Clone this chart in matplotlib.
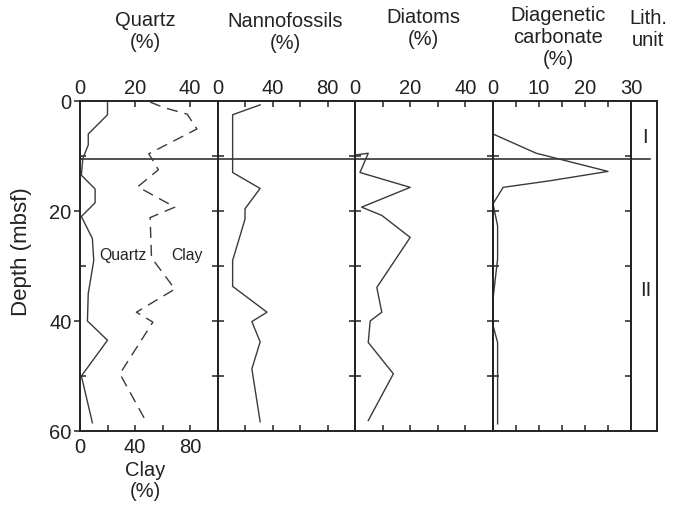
import numpy as np
import matplotlib
matplotlib.use("Agg")
import matplotlib.pyplot as plt
from matplotlib.ticker import FixedLocator

plt.rcParams['font.family'] = ['Liberation Sans', 'DejaVu Sans']

# depth (mbsf) vs composition (%)
quartz_depth = [0, 2.5, 6, 8, 10.5, 13.5, 16, 18.5, 21, 25, 29, 35, 40, 43.5, 50, 58.5]
quartz_pct = [10, 10, 3, 3, 1, 0.5, 5.5, 5.5, 0.5, 4.5, 5, 3, 2.7, 10, 0.5, 4.5]

clay_depth = [0.2, 1.2, 2.4, 5.1, 9.6, 12.5, 15.6, 19.3, 21.2, 28.5, 34.2, 38.4, 40.2, 49.6, 58.7]
clay_pct = [51, 61, 78, 85, 50, 57, 42, 69, 51, 52, 69, 41, 53, 29, 49]

nanno_depth = [0.7, 2.5, 13, 15.9, 19.6, 21.5, 29, 33.7, 38.4, 40.1, 43.8, 48.7, 58.3]
nanno_pct = [31, 11, 11, 31, 20, 20, 11, 11, 36, 25, 31, 25, 31]

diatom_depth = [9.8, 9.5, 13, 15.7, 19.3, 20.8, 24.8, 33.9, 38.4, 40, 43.9, 49.6, 58.1]
diatom_pct = [0.4, 4.8, 1.8, 20, 2.4, 9.7, 20, 7.9, 9.7, 5.5, 4.8, 13.9, 4.8]

carb_depth = [6, 9.5, 12.8, 14.5, 15.7, 18.7, 22.7, 28.7, 36, 40.8, 43.9, 58.7]
carb_pct = [0, 9.4, 25, 12.4, 2.2, 0, 1, 1, 0, 0, 1, 1]

unit_boundary = 10.5
units = ['I', 'II']
unit_depths = [6.4, 34.2]

W, H = 682, 510
fig = plt.figure(figsize=(W / 100, H / 100), dpi=100)
top_px, bot_px = 102, 432

def add_panel(x0, x1):
    return fig.add_axes([x0 / W, (H - bot_px) / H, (x1 - x0) / W, (bot_px - top_px) / H])

ink = '#222222'
line_c = '#3a3a3a'
fs = 14.5

def style(ax, xlim, major, minor, bottom=True):
    ax.set_xlim(*xlim)
    ax.set_ylim(60, 0)
    for s in ax.spines.values():
        s.set_linewidth(1.4)
        s.set_color(ink)
    ax.xaxis.set_ticks_position('top')
    ax.xaxis.set_major_locator(FixedLocator(major))
    ax.xaxis.set_minor_locator(FixedLocator(minor))
    ax.tick_params(axis='x', which='both', direction='in', length=4, width=1.1,
                   top=True, bottom=bottom, labeltop=True, labelbottom=False,
                   colors=ink, labelsize=fs, pad=3)
    ax.yaxis.set_major_locator(FixedLocator([10, 20, 30, 40, 50]))
    ax.tick_params(axis='y', which='major', direction='inout', length=8,
                   width=1.1, left=True, right=False, labelleft=False, colors=ink)
    ax.axhline(unit_boundary, color=ink, lw=1.1)

# Quartz / clay
ax1 = add_panel(80, 217.5)
axc = ax1.twiny()
axc.set_xlim(0, 100)
for s in axc.spines.values():
    s.set_visible(False)
axc.xaxis.set_ticks_position('bottom')
axc.xaxis.set_major_locator(FixedLocator([0, 40, 80]))
axc.xaxis.set_minor_locator(FixedLocator([20, 60]))
axc.tick_params(axis='x', which='both', direction='in', length=4, width=1.1, colors=ink,
                bottom=True, top=False, labelbottom=True, labeltop=False, labelsize=fs, pad=4)
axc.plot(clay_pct, clay_depth, color=line_c, lw=1, linestyle=(0, (8, 5)))

style(ax1, (0, 50), [0, 20, 40], [], bottom=False)
ax1.yaxis.set_major_locator(FixedLocator([0, 20, 40, 60]))
ax1.yaxis.set_minor_locator(FixedLocator([10, 30, 50]))
ax1.tick_params(axis='y', which='major', direction='out', length=4, labelleft=True,
                labelsize=fs, pad=2)
ax1.tick_params(axis='y', which='minor', direction='in', length=4, width=1.1, left=True, colors=ink)
ax1.plot(quartz_pct, quartz_depth, color=line_c, lw=1)
ax1.text(15.5, 27.9, 'Quartz', fontsize=11.3, ha='center', va='center', color=ink)
ax1.text(39, 27.9, 'Clay', fontsize=11.3, ha='center', va='center', color=ink)

# Nannofossils
ax2 = add_panel(217.5, 355)
style(ax2, (0, 100), [0, 40, 80], [20, 60])
ax2.plot(nanno_pct, nanno_depth, color=line_c, lw=1)

# Diatoms
ax3 = add_panel(355, 493)
style(ax3, (0, 50), [0, 20, 40], [10, 30])
ax3.plot(diatom_pct, diatom_depth, color=line_c, lw=1)

# Diagenetic carbonate
ax4 = add_panel(493, 631)
style(ax4, (0, 30), [0, 10, 20, 30], [5, 15, 25])
ax4.plot(carb_pct, carb_depth, color=line_c, lw=1)

# Lithologic unit
ax5 = add_panel(631, 657)
ax5.set_xlim(0, 1)
ax5.set_ylim(60, 0)
ax5.set_xticks([])
ax5.yaxis.set_major_locator(FixedLocator([10, 20, 30, 40, 50]))
ax5.tick_params(axis='y', direction='out', length=4, width=1.1, colors=ink, labelleft=False)
for s in ax5.spines.values():
    s.set_linewidth(1.4)
    s.set_color(ink)
ax5.axhline(unit_boundary, xmax=0.73, color=ink, lw=1.1)
for u, d in zip(units, unit_depths):
    ax5.text(0.55, d, u, fontsize=fs, ha='center', va='center', color=ink)

# headers
def header(x, text, top=10):
    fig.text(x / W, 1 - top / H, text, ha='center', va='top', fontsize=fs,
             color=ink, linespacing=1.2)

header(145, 'Quartz\n(%)', 11)
header(285, 'Nannofossils\n(%)', 12)
header(423, 'Diatoms\n(%)', 8)
header(558, 'Diagenetic\ncarbonate\n(%)', 6)
header(648, 'Lith.\nunit', 9)
fig.text(145 / W, 1 - 461 / H, 'Clay\n(%)', ha='center', va='top', fontsize=fs,
         color=ink, linespacing=1.15)
fig.text(22 / W, 1 - 252 / H, 'Depth (mbsf)', rotation=90, ha='center', va='center',
         fontsize=16, color=ink)

fig.savefig('out.png', dpi=100, facecolor='white')
